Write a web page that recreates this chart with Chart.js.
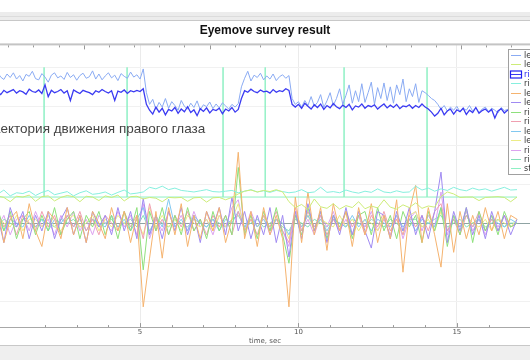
<!DOCTYPE html>
<html>
<head>
<meta charset="utf-8">
<script src="https://cdn.jsdelivr.net/npm/chart.js@4/dist/chart.umd.min.js"></script>
<style>
  html, body { margin: 0; padding: 0; background: #fff; }
  #wrap { width: 530px; height: 360px; position: relative; }
</style>
</head>
<body>
<div id="wrap"><canvas id="grafico"></canvas></div>
<script>
// sampling of the recordings (seconds)
const fineStart = 0, fineStep = 0.1;     // eye position
const coarseStart = 0.1, coarseStep = 0.2; // derived signals

// upper panel: horizontal eye position
const leftX = [
  3.72,3.85,3.70,3.80,3.66,3.88,3.75,3.69,3.83,3.74,
  3.86,3.70,3.79,3.65,3.82,3.77,3.90,3.71,3.68,3.84,
  3.75,3.62,3.80,3.86,3.73,3.78,3.69,3.87,3.74,3.81,
  3.67,3.79,3.85,3.72,3.76,3.91,3.70,3.83,3.68,3.78,
  3.86,3.73,3.80,3.66,3.84,3.77,3.72,3.88,3.75,3.81,
  3.70,3.96,3.35,3.05,3.18,2.92,3.10,2.98,3.20,2.95,
  3.12,3.02,2.90,3.15,3.00,2.93,3.08,2.97,3.14,2.91,
  3.04,2.99,3.11,2.94,3.06,2.96,3.09,3.01,2.93,3.05,
  2.98,3.07,3.50,3.72,3.90,3.65,3.80,3.74,3.85,3.68,
  3.78,3.70,3.83,3.66,3.76,3.81,3.72,3.79,3.20,3.05,
  3.12,2.98,3.15,3.02,3.25,3.00,3.10,3.30,2.97,3.14,
  3.35,3.02,3.20,3.45,3.05,3.28,3.55,3.08,3.40,3.12,
  3.58,3.10,3.35,3.62,3.05,3.48,3.20,3.60,3.15,3.50,
  3.08,3.55,3.30,3.70,3.12,3.45,3.25,3.58,3.10,3.40,
  3.35,3.28,3.20,3.15,3.05,2.92,3.02,2.88,2.98,2.90,
  3.00,2.86,2.95,2.90,3.02,2.88,2.96,2.84,2.93,2.98,
  2.87,2.95,2.90,2.83,2.97,2.89,2.92,2.86,2.94,2.90
];
const rightX = [
  3.40,3.36,3.42,3.33,3.45,3.38,3.30,3.41,3.35,3.39,
  3.43,3.34,3.40,3.37,3.31,3.44,3.38,3.36,3.42,3.33,
  3.55,3.25,3.41,3.35,3.38,3.43,3.34,3.40,3.15,3.42,
  3.37,3.33,3.41,3.38,3.35,3.30,3.40,3.36,3.43,3.38,
  3.34,3.40,3.15,3.39,3.36,3.42,3.33,3.40,3.37,3.41,
  3.38,3.45,3.05,2.90,2.80,2.98,2.85,2.95,2.78,2.92,
  2.88,2.97,2.82,2.93,2.86,2.99,2.84,2.91,2.76,2.94,
  2.87,2.96,2.83,2.92,2.89,2.95,2.81,2.93,2.88,2.97,
  2.85,2.92,3.20,3.40,3.36,3.44,3.38,3.35,3.42,3.37,
  3.39,3.34,3.43,3.36,3.40,3.38,3.45,3.41,3.05,2.98,
  3.05,2.95,3.08,3.00,2.93,3.04,2.97,3.06,2.92,3.02,
  2.96,3.07,2.99,2.94,3.03,2.97,3.05,2.91,3.01,2.98,
  3.06,2.95,3.02,2.99,3.04,2.93,3.00,3.06,2.96,3.03,
  2.97,3.05,2.94,3.01,2.99,3.04,2.95,3.02,2.97,3.06,
  2.98,2.93,2.85,2.75,2.82,2.95,2.78,2.88,2.93,2.80,
  2.91,2.86,2.95,2.79,2.90,2.84,2.97,2.82,2.89,2.93,
  2.85,2.92,2.70,2.88,2.94,2.83,2.90,2.87,2.95,2.86
];

// lower panel: vertical position
const leftY = [
  0.68,0.58,0.70,0.66,0.55,0.69,0.67,0.72,0.56,0.68,
  0.70,0.57,0.66,0.71,0.68,0.55,0.69,0.67,0.58,0.70,
  0.66,0.72,0.57,0.68,0.69,0.62,0.66,0.64,0.55,0.66,
  0.65,0.66,0.56,0.65,0.66,0.54,0.65,0.66,0.60,0.66,
  0.75,0.82,0.85,0.80,0.84,0.81,0.86,0.80,0.55,0.40,
  0.48,0.35,0.62,0.42,0.38,0.50,0.36,0.45,0.40,0.55,
  0.37,0.44,0.39,0.60,0.41,0.36,0.47,0.40,0.52,0.38,
  0.44,0.41,0.68,0.80,0.75,0.66,0.67,0.67,0.58,0.66,
  0.67,0.68,0.66,0.55,0.67
];
const rightY = [
  0.72,0.80,0.74,0.85,0.70,0.78,0.76,0.82,0.71,0.79,
  0.84,0.73,0.77,0.81,0.70,0.78,0.83,0.74,0.76,0.80,
  0.72,0.79,0.85,0.75,0.77,0.80,0.92,0.88,0.95,0.86,
  0.90,0.84,0.82,0.80,0.83,0.86,0.81,0.80,0.82,0.84,
  0.78,0.82,0.86,0.80,0.83,0.79,0.84,0.81,0.78,0.80,
  0.86,0.78,0.80,0.92,0.79,0.81,0.78,0.85,0.80,0.77,
  0.82,0.79,0.88,0.80,0.78,0.83,0.79,0.80,0.95,0.85,
  0.90,0.82,0.88,0.84,0.92,0.86,0.83,0.90,0.85,0.88,
  0.82,0.87,0.92,0.85,0.86
];

// velocities
const leftVX = [
  0.2,-0.3,0.4,-0.5,0.1,0.3,-0.4,0.5,-0.2,-0.6,
  0.3,0.1,-0.4,0.4,-0.3,0.2,-0.5,0.3,0.0,-0.4,
  0.4,-0.2,0.3,-0.5,0.2,-2.15,-0.9,0.3,-0.9,0.4,
  -0.3,0.5,-0.6,0.2,-0.4,0.3,-0.2,0.4,-0.5,0.1,
  1.82,-0.4,0.3,-0.6,0.4,-0.3,0.2,-0.4,-2.15,0.67,
  -0.5,0.8,-0.3,0.4,-0.7,0.5,-0.2,0.3,-0.6,0.4,
  -0.3,0.5,-0.5,0.2,-0.4,0.6,-1.26,0.3,0.97,-0.5,
  0.4,-0.3,-1.13,0.5,-0.75,0.3,-0.4,0.2,-0.3,0.4,
  -0.2,0.3,-0.4,0.2,0.1
];
const leftVY = [
  0.5,-0.3,0.2,-0.5,0.4,-0.1,0.3,-0.4,0.2,-0.2,
  0.3,-0.4,0.1,0.4,-0.3,0.2,-0.5,0.3,-0.1,0.2,
  -0.3,0.4,-0.2,0.3,-0.4,0.63,-0.3,0.2,-0.4,0.3,
  -0.2,0.4,-0.3,0.2,-0.5,0.3,-0.1,0.4,-0.3,0.66,
  -0.2,0.3,-0.4,0.2,-0.3,0.4,-0.5,0.2,-0.87,0.3,
  -0.4,0.5,-0.2,0.3,-0.5,0.2,-0.3,0.4,-0.3,0.3,
  -0.2,-0.64,0.3,0.2,-0.4,0.3,-0.2,0.4,-0.3,0.2,
  -0.4,0.3,1.31,-0.5,0.3,-0.2,0.4,-0.3,0.2,-0.4,
  0.3,-0.2,0.2,-0.3,0.1
];
const rightVX = [
  -0.3,0.2,0.4,-0.2,0.3,-0.4,0.1,0.3,-0.3,0.2,
  -0.2,0.4,-0.3,0.1,0.3,-0.4,0.2,-0.1,0.3,-0.3,
  0.2,-0.4,0.3,-0.2,0.4,-1.2,0.3,-0.2,0.4,-0.3,
  0.2,-0.3,0.4,-0.2,0.1,-0.4,0.3,-0.2,0.2,-0.3,
  1.43,-0.3,0.2,-0.4,0.3,-0.2,0.4,-0.3,-1.03,0.2,
  -0.3,0.4,-0.2,0.3,-0.4,0.2,-0.1,0.3,-0.4,0.2,
  0.3,-0.3,0.4,-0.2,0.2,-0.4,0.3,-0.1,0.2,-0.5,
  0.3,-0.2,0.4,-0.6,0.2,-0.3,0.4,-0.5,0.3,-0.2,
  0.2,-0.3,0.3,-0.1,0.0
];
const rightVY = [
  0.1,-0.2,0.3,-0.1,0.2,-0.3,0.2,0.0,-0.2,0.3,
  -0.1,0.2,-0.3,0.2,-0.1,0.3,-0.2,0.1,-0.3,0.2,
  0.0,-0.2,0.3,-0.1,0.2,-0.4,0.5,-0.2,0.1,-0.3,
  0.2,-0.1,0.3,-0.2,0.1,-0.3,0.2,-0.1,0.2,-0.3,
  0.3,-0.2,0.1,-0.3,0.2,-0.1,0.3,-0.2,-0.5,0.4,
  -0.2,0.3,-0.1,0.2,-0.3,0.1,-0.2,0.3,-0.1,0.2,
  -0.3,0.2,-0.1,0.3,-0.2,0.1,-0.3,0.2,-0.1,0.2,
  -0.2,0.3,0.5,-0.2,0.1,-0.3,0.2,-0.1,0.3,-0.2,
  0.1,-0.2,0.2,-0.1,0.0
];

// accelerations
const leftAX = [
  0.1,-0.1,0.2,-0.2,0.1,0.0,-0.1,0.2,-0.1,0.1,
  -0.2,0.1,0.0,0.2,-0.1,0.1,-0.2,0.1,0.0,-0.1,
  0.2,-0.1,0.1,-0.2,0.1,0.4,-0.3,0.2,-0.1,0.62,
  -0.1,0.1,-0.2,0.2,0.0,-0.1,0.1,-0.2,0.1,0.0,
  0.3,-0.1,0.2,-0.1,0.1,-0.2,0.1,0.0,-0.3,0.2,
  -0.1,0.2,-0.1,0.1,-0.2,0.1,0.0,-0.1,0.2,-0.1,
  0.1,-0.2,0.1,0.0,-0.1,0.2,-0.1,0.1,-0.2,0.1,
  0.0,-0.1,0.4,-0.2,0.1,-0.1,0.2,-0.1,0.1,-0.2,
  0.1,0.0,-0.1,0.1,0.0
];
const leftAY = [
  0.1,-0.2,0.2,0.0,-0.1,0.2,-0.2,0.1,0.1,-0.1,
  0.2,-0.1,-0.2,0.1,0.2,-0.1,0.0,0.2,-0.2,0.1,
  -0.1,0.2,0.0,-0.2,0.1,-0.3,0.4,-0.1,0.2,-0.1,
  0.1,-0.2,0.2,0.0,-0.1,0.1,-0.2,0.2,-0.1,0.1,
  0.5,-0.2,0.1,-0.1,0.2,-0.2,0.1,0.0,-0.4,0.3,
  -0.1,0.2,-0.2,0.1,0.0,-0.1,0.2,-0.1,0.1,-0.2,
  0.1,0.0,-0.2,0.2,-0.1,0.1,-0.3,0.2,0.3,-0.1,
  0.1,-0.2,0.3,-0.2,0.1,-0.1,0.2,0.0,-0.1,0.1,
  -0.2,0.1,0.0,-0.1,0.1
];
const rightAX = [
  -0.2,0.3,-0.1,0.2,-0.3,0.1,0.2,-0.2,0.3,-0.1,
  0.1,-0.3,0.2,-0.1,0.3,-0.2,0.1,-0.3,0.2,0.0,
  -0.2,0.3,-0.1,0.2,-0.3,0.5,-0.4,0.1,-0.2,0.3,
  -0.1,0.2,-0.2,0.3,-0.1,0.1,-0.3,0.2,-0.1,0.4,
  0.6,-0.2,0.3,-0.1,0.2,-0.3,0.1,-0.2,-0.6,0.3,
  -0.2,0.1,-0.3,0.2,-0.1,0.3,-0.2,0.1,-0.3,0.2,
  -0.1,0.3,-0.2,0.1,-0.3,0.2,-0.4,0.1,0.3,-0.2,
  0.2,-0.1,0.8,-0.3,0.2,-0.1,0.3,-0.2,0.1,-0.3,
  0.2,-0.1,0.2,-0.1,0.0
];
const rightAY = [
  0.0,0.1,-0.1,0.1,0.0,-0.1,0.1,0.0,-0.1,0.1,
  0.0,-0.1,0.1,0.0,0.1,-0.1,0.0,0.1,-0.1,0.0,
  0.1,-0.1,0.0,0.1,-0.1,0.2,-0.2,0.1,0.0,-0.1,
  0.1,0.0,-0.1,0.1,0.0,-0.1,0.1,0.0,-0.1,0.1,
  0.2,-0.1,0.0,0.1,-0.1,0.0,0.1,-0.1,-0.2,0.1,
  0.0,-0.1,0.1,0.0,-0.1,0.1,0.0,-0.1,0.1,0.0,
  -0.1,0.1,0.0,-0.1,0.1,0.0,-0.2,0.1,0.1,-0.1,
  0.0,0.1,0.2,-0.1,0.0,0.1,-0.1,0.0,0.1,-0.1,
  0.0,0.1,-0.1,0.0,0.0
];

// stimulus onsets (s) and levels
const stimTimes = [1.97, 4.59, 7.62, 8.95, 11.44, 14.06];
const stimBase = 0.67, stimPeak = 4.0, stimEnd = 16.9;

const seriesNames = [
  'left X', 'left Y', 'right X', 'right Y',
  'left vX', 'left vY', 'right vX', 'right vY',
  'left aX', 'left aY', 'right aX', 'right aY', 'stimulus'
];
const seriesColors = [
  '#8aabf3', '#cdec78', '#3b3bf2', '#86efde',
  '#f5b36f', '#a08af2', '#8ee07c', '#f09fb0',
  '#82c8f0', '#ecec86', '#dca2ef', '#84deb8', '#8ef0c4'
];

function toPoints(vals, start, step) {
  return vals.map((v, i) => ({ x: +(start + i * step).toFixed(2), y: v }));
}

const stimPoints = [{ x: 0, y: stimBase }];
stimTimes.forEach(t => {
  stimPoints.push({ x: t, y: stimBase }, { x: t, y: stimPeak }, { x: t, y: stimBase });
});
stimPoints.push({ x: stimEnd, y: stimBase });

const seriesData = [
  toPoints(leftX, fineStart, fineStep),
  toPoints(leftY, coarseStart, coarseStep),
  toPoints(rightX, fineStart, fineStep),
  toPoints(rightY, coarseStart, coarseStep),
  toPoints(leftVX, coarseStart, coarseStep),
  toPoints(leftVY, coarseStart, coarseStep),
  toPoints(rightVX, coarseStart, coarseStep),
  toPoints(rightVY, coarseStart, coarseStep),
  toPoints(leftAX, coarseStart, coarseStep),
  toPoints(leftAY, coarseStart, coarseStep),
  toPoints(rightAX, coarseStart, coarseStep),
  toPoints(rightAY, coarseStart, coarseStep),
  stimPoints
];

const datasets = seriesNames.map((name, i) => ({
  label: name,
  data: seriesData[i],
  borderColor: seriesColors[i],
  borderWidth: i === 2 ? 1.3 : 1,
  order: i === 2 ? -1 : i
}));

// window frame: grey bars above and below the plot
const framePlugin = {
  id: 'frame',
  beforeDraw(chart) {
    const c = chart.ctx;
    c.save();
    c.fillStyle = '#fff';
    c.fillRect(0, 0, chart.width, chart.height);
    c.fillStyle = '#ececec';
    c.fillRect(0, 12, chart.width, 9);
    c.fillStyle = '#dcdcdc';
    c.fillRect(0, 16, chart.width, 1);
    c.fillStyle = '#c8c8c8';
    c.fillRect(0, 20, chart.width, 1);
    c.fillStyle = '#efefef';
    c.fillRect(0, 345, chart.width, chart.height - 345);
    c.fillStyle = '#c8c8c8';
    c.fillRect(0, 345, chart.width, 1);
    c.restore();
  }
};

// inward ticks, sub title, legend
const decorPlugin = {
  id: 'decor',
  afterDatasetsDraw(chart) {
    const c = chart.ctx;
    c.save();
    c.font = '13.5px "Liberation Sans", Arial, sans-serif';
    c.fillStyle = '#444';
    c.textBaseline = 'alphabetic';
    c.fillText('Траектория движения правого глаза', -22, 133);
    c.restore();
  },
  afterDraw(chart) {
    const c = chart.ctx;
    const a = chart.chartArea;
    const xs = chart.scales.x;
    c.save();
    // top border with ticks
    c.fillStyle = '#c4c4c4';
    c.fillRect(0, a.top - 1, chart.width, 2);
    c.strokeStyle = '#999';
    c.lineWidth = 1;
    for (let k = -2; k < 30; k++) {
      const px = Math.round(xs.getPixelForValue(0.84 + k * 0.794)) + 0.5;
      if (px < 0 || px > chart.width) continue;
      const len = ((k - 3) % 5 === 0) ? 4 : 2;
      c.beginPath();
      c.moveTo(px, a.top + 1);
      c.lineTo(px, a.top + 1 + len);
      c.stroke();
    }
    // bottom ticks pointing inside
    xs.ticks.forEach(t => {
      const px = Math.round(xs.getPixelForValue(t.value)) + 0.5;
      const len = t.value % 5 === 0 ? 4 : 2;
      c.beginPath();
      c.moveTo(px, a.bottom);
      c.lineTo(px, a.bottom - len);
      c.stroke();
    });
    // legend box
    const lx = 508, ly = 49, step = 9.45;
    c.fillStyle = '#fff';
    c.fillRect(lx, ly, chart.width - lx + 5, 126);
    c.strokeStyle = '#a0a0a0';
    c.strokeRect(lx + 0.5, ly + 0.5, chart.width - lx + 5, 125);
    c.font = '8px "DejaVu Sans", sans-serif';
    c.textBaseline = 'middle';
    chart.data.datasets.forEach((ds, i) => {
      const y = Math.round(ly + 6 + i * step) + 0.5;
      c.strokeStyle = ds.borderColor;
      c.lineWidth = 1;
      c.beginPath();
      c.moveTo(511, y);
      c.lineTo(521, y);
      c.stroke();
      if (i === 2) {
        c.strokeStyle = '#2020f0';
        c.lineWidth = 1.2;
        c.strokeRect(510.5, y - 3.5, 11, 7);
      }
      c.fillStyle = i === 2 ? '#2020f0' : '#333';
      c.fillText(ds.label, 524, y);
    });
    c.restore();
  }
};

const onlyWhole = axis => {
  axis.ticks = axis.ticks.filter(t => Math.abs(t.value - Math.round(t.value)) < 1e-6);
};

const ctx = document.getElementById('grafico').getContext('2d');
new Chart(ctx, {
  type: 'line',
  data: { datasets: datasets },
  plugins: [framePlugin, decorPlugin],
  options: {
    responsive: true,
    maintainAspectRatio: false,
    animation: false,
    layout: { padding: { top: 21, bottom: 15.5, left: 0, right: 0 } },
    elements: { point: { radius: 0 }, line: { tension: 0 } },
    scales: {
      x: {
        type: 'linear',
        min: 0.578,
        max: 17.31,
        afterBuildTicks: onlyWhole,
        border: { color: '#a8a8a8' },
        grid: {
          drawTicks: false,
          color: c => (c.tick && c.tick.value % 5 === 0) ? '#ebebeb' : 'rgba(0,0,0,0)'
        },
        ticks: {
          stepSize: 1,
          autoSkip: false,
          maxRotation: 0,
          padding: 1,
          color: '#555',
          font: { family: 'DejaVu Sans', size: 7 },
          callback: v => (v % 5 === 0 ? v : '')
        },
        title: {
          display: true,
          text: 'time, sec',
          color: '#555',
          padding: 0,
          font: { family: 'DejaVu Sans', size: 7, lineHeight: 1 }
        }
      },
      y: {
        type: 'linear',
        min: -2.67,
        max: 4.59,
        afterBuildTicks: onlyWhole,
        border: { display: false },
        grid: {
          drawTicks: false,
          color: c => (c.tick && c.tick.value === 0) ? '#8fa3a3' : '#f1f1f1'
        },
        ticks: { display: false, stepSize: 1 }
      }
    },
    plugins: {
      legend: { display: false },
      tooltip: { enabled: false },
      title: {
        display: true,
        text: 'Eyemove survey result',
        color: '#111',
        padding: { top: 2, bottom: 7 },
        font: { family: 'Liberation Sans', size: 12, weight: 'bold' }
      }
    }
  }
});
</script>
</body>
</html>
